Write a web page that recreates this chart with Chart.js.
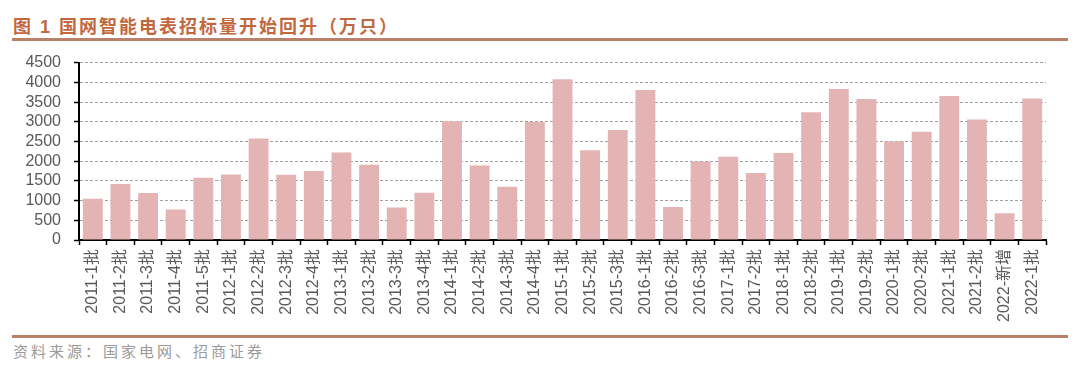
<!DOCTYPE html>
<html>
<head>
<meta charset="utf-8">
<script src="https://cdn.jsdelivr.net/npm/chart.js@4/dist/chart.umd.min.js"></script>
<style>
  html, body { margin: 0; padding: 0; background: #fff; }
  body { width: 1080px; height: 374px; position: relative; overflow: hidden; font-family: "Liberation Sans", Arial, "Noto Sans CJK SC", sans-serif; }
  #title { position: absolute; left: 13px; top: 12px; font-size: 18px; font-weight: bold; color: #c2683f; letter-spacing: 2px; font-family: "Liberation Sans", "Noto Sans CJK SC", sans-serif; white-space: nowrap; }
  .rule { position: absolute; left: 12px; width: 1056px; height: 3px; background: #b9806a; }
  #footer { position: absolute; left: 13px; top: 340px; font-size: 15px; color: #9a9a9a; letter-spacing: 3px; font-family: "Noto Sans CJK SC", sans-serif; white-space: nowrap; }
  #wrap { position: absolute; left: 0; top: 50px; width: 1080px; height: 285px; }
</style>
</head>
<body>
<div id="title">图 1 国网智能电表招标量开始回升（万只）</div>
<div class="rule" style="top:38px"></div>
<div id="wrap"><canvas id="c"></canvas></div>
<div class="rule" style="top:335px"></div>
<div id="footer">资料来源：国家电网、招商证券</div>
<script>
const categories = [
  "2011-1批","2011-2批","2011-3批","2011-4批","2011-5批",
  "2012-1批","2012-2批","2012-3批","2012-4批",
  "2013-1批","2013-2批","2013-3批","2013-4批",
  "2014-1批","2014-2批","2014-3批","2014-4批",
  "2015-1批","2015-2批","2015-3批",
  "2016-1批","2016-2批","2016-3批",
  "2017-1批","2017-2批",
  "2018-1批","2018-2批",
  "2019-1批","2019-2批",
  "2020-1批","2020-2批",
  "2021-1批","2021-2批",
  "2022-新增","2022-1批"
];
const tenderVolume = [
  1050, 1420, 1190, 775, 1580,
  1665, 2575, 1655, 1750,
  2220, 1910, 825, 1200,
  3015, 1890, 1350, 2995,
  4080, 2280, 2790,
  3810, 840, 1990,
  2110, 1700,
  2210, 3240,
  3835, 3580,
  2500, 2745,
  3655, 3060,
  680, 3590
];
const yTicks = [0, 500, 1000, 1500, 2000, 2500, 3000, 3500, 4000, 4500];

new Chart(document.getElementById('c'), {
  type: 'bar',
  data: {
    labels: categories,
    datasets: [{
      data: tenderVolume,
      backgroundColor: '#e4b4b4',
      borderWidth: 0,
      barPercentage: 0.72,
      categoryPercentage: 1.0
    }]
  },
  options: {
    responsive: true,
    maintainAspectRatio: false,
    animation: false,
    layout: { padding: { top: 0, right: 34, left: 0, bottom: 0 } },
    plugins: { legend: { display: false }, tooltip: { enabled: false } },
    scales: {
      x: {
        grid: { display: true, drawOnChartArea: false, drawTicks: true, tickLength: 5, tickColor: '#000', tickWidth: 1.5, offset: true },
        border: { display: true, color: '#000', width: 2 },
        ticks: {
          autoSkip: false, minRotation: 90, maxRotation: 90, padding: 4,
          color: '#595959',
          font: { size: 16, family: '"Liberation Sans", Arial, "Noto Sans CJK SC", sans-serif' }
        },
        afterFit: (s) => { s.height = 95; }
      },
      y: {
        min: 0, max: 4500,
        afterBuildTicks: (s) => { s.ticks = yTicks.map(v => ({ value: v })); },
        grid: { color: '#a0a0a0', lineWidth: 1, tickLength: 5, tickColor: '#000', tickWidth: 1.5 },
        border: { display: true, color: '#000', width: 2, dash: [3, 2] },
        ticks: {
          autoSkip: false, stepSize: 500,
          callback: (v) => String(v),
          padding: 13, color: '#595959',
          font: { size: 16, family: '"Liberation Sans", Arial, sans-serif' }
        },
        afterFit: (s) => { s.width = 79; s.paddingTop = 12.7; s.paddingBottom = 0; }
      }
    }
  }
});
</script>
</body>
</html>
